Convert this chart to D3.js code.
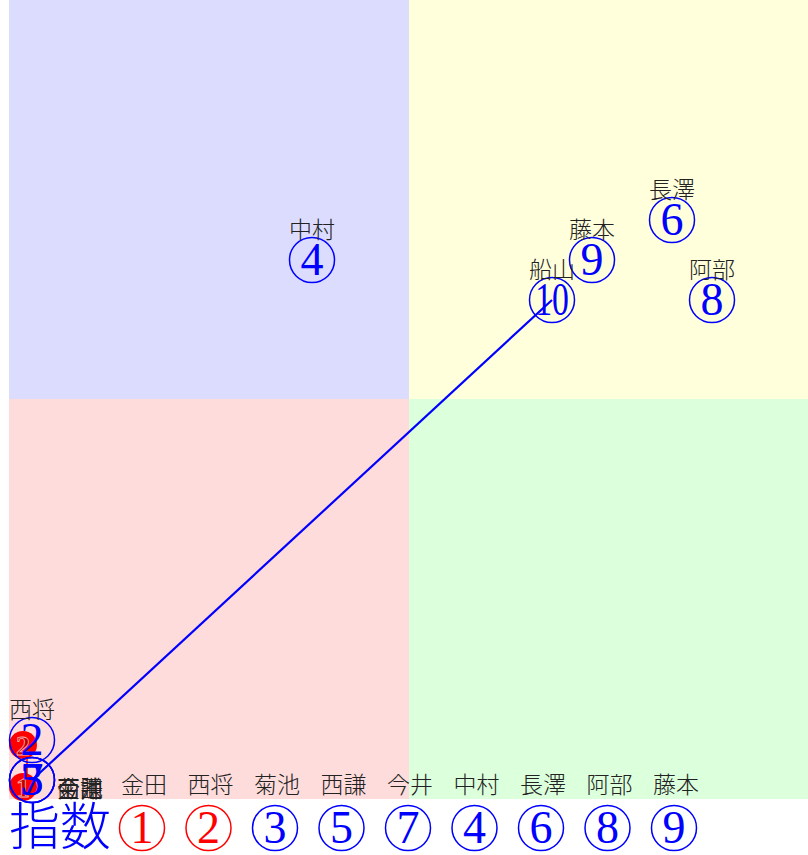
<!DOCTYPE html>
<html><head><meta charset="utf-8">
<script src="https://cdn.jsdelivr.net/npm/d3@7"></script>
<style>body{margin:0;background:#fff}svg{display:block}</style>
</head><body>
<script>
// data
const names  = ["金田","西将","菊池","中村","西謙","長澤","今井","阿部","藤本","船山"];
const idx    = [1,2,3,4,5,6,7,8,9,10];
const xs     = [0,0,0,7,0,16,0,17,14,13];
const ys     = [0,1,0,13,0,14,0,12,13,12];
const groups = ["red","red","blue","blue","blue","blue","blue","blue","blue","blue"];
const rowNames = ["金田","西将","菊池","西謙","今井","中村","長澤","阿部","藤本"];
const rowIdx   = [1,2,3,5,7,4,6,8,9];
const rowGroup = ["red","red","blue","blue","blue","blue","blue","blue","blue"];
const quadColors = ["#dcdcff","#ffffdc","#ffdcdc","#dcffdc"];

const W=808,H=855;
const svg=d3.select("body").append("svg").attr("width",W).attr("height",H);
const x=d3.scaleLinear().domain([0,20]).range([9,809]);
const y=d3.scaleLinear().domain([0,20]).range([799,-1]);

// quadrants
const quads=[[0,10,10,20],[10,20,10,20],[0,10,0,10],[10,20,0,10]];
svg.selectAll("rect.q").data(quads).join("rect")
  .attr("x",d=>x(d[0])).attr("width",d=>x(d[1])-x(d[0]))
  .attr("y",d=>y(d[3])).attr("height",d=>y(d[2])-y(d[3]))
  .attr("fill",(d,i)=>quadColors[i]);

const pts=names.map((n,i)=>({n,i:idx[i],x:xs[i],y:ys[i],g:groups[i]}));
const SF="'Liberation Serif','DejaVu Serif',serif";
const NF="'Noto Sans CJK JP',sans-serif";

function circled(parent, data, cx, cy, col, r, fs){
  const g=parent.selectAll(null).data(data).join("g")
    .attr("transform",d=>`translate(${cx(d)},${cy(d)})`);
  g.append("circle").attr("r",r).attr("fill","none").attr("stroke",col).attr("stroke-width",1.5);
  g.append("text").attr("y",fs*0.33).attr("text-anchor","middle")
    .attr("font-family",SF).attr("font-size",fs).attr("fill",col)
    .each(function(d){
      const t=d3.select(this).text(d.i);
      if(String(d.i).length>1) t.attr("textLength",r*1.5).attr("lengthAdjust","spacingAndGlyphs");
    });
  return g;
}

// red filled markers
const reds=pts.filter(p=>p.g==="red");
svg.append("line").attr("x1",x(reds[1].x)+18).attr("y1",y(reds[1].y)-14)
  .attr("x2",x(reds[0].x)+18).attr("y2",y(reds[0].y)-6)
  .attr("stroke","red").attr("stroke-width",1.5);
const rg=svg.selectAll("g.r").data(reds).join("g")
  .attr("transform",d=>`translate(${x(d.x)+14},${y(d.y)-12-(d.y>0?2:0)})`);
rg.append("circle").attr("r",14).attr("fill","red");
rg.append("text").attr("y",10).attr("text-anchor","middle")
  .attr("font-family",SF).attr("font-weight","bold").attr("font-size",28)
  .attr("fill","#c00000").attr("stroke","#ffb0b0").attr("stroke-width",0.8).text(d=>d.i);

// blue line from origin cluster to 船山
const funa=pts[9];
svg.append("line").attr("x1",x(0)+23).attr("y1",y(0)-19)
  .attr("x2",x(funa.x)+23).attr("y2",y(funa.y)-19)
  .attr("stroke","blue").attr("stroke-width",2.2);

// circled index points
const blues=pts.filter(p=>p.g==="blue" || p.i===2);
circled(svg, blues, d=>x(d.x)+23, d=>y(d.y)-19, "blue", 22.5, 46);

// names
svg.selectAll("text.n").data(pts).join("text")
  .attr("x",d=>(d.x===0&&d.y===0)?x(d.x)+48:x(d.x)+23)
  .attr("y",d=>(d.x===0&&d.y===0)?y(d.y)-12:y(d.y)-51)
  .attr("text-anchor",d=>(d.x===0&&d.y===0)?"start":"middle")
  .attr("dominant-baseline","central")
  .attr("font-family",NF).attr("font-weight",300).attr("font-size",23).attr("fill","#222")
  .text(d=>d.n);

// bottom row
const bx=d3.scalePoint().domain(rowNames).range([144,676]);
svg.selectAll("text.bn").data(rowNames).join("text")
  .attr("x",d=>bx(d)).attr("y",783).attr("text-anchor","middle").attr("dominant-baseline","central")
  .attr("font-family",NF).attr("font-weight",300).attr("font-size",23).attr("fill","#222").text(d=>d);
const rowData=rowIdx.map((v,k)=>({i:v,n:rowNames[k],g:rowGroup[k]}));
["red","blue"].forEach(c=>{
  circled(svg, rowData.filter(d=>d.g===c), d=>bx(d.n)-2, d=>828, c, 22.5, 46);
});
svg.append("text").attr("x",9).attr("y",845)
  .attr("font-family",NF).attr("font-weight",300).attr("font-size",51).attr("fill","blue").text("指数");
</script>
</body></html>
